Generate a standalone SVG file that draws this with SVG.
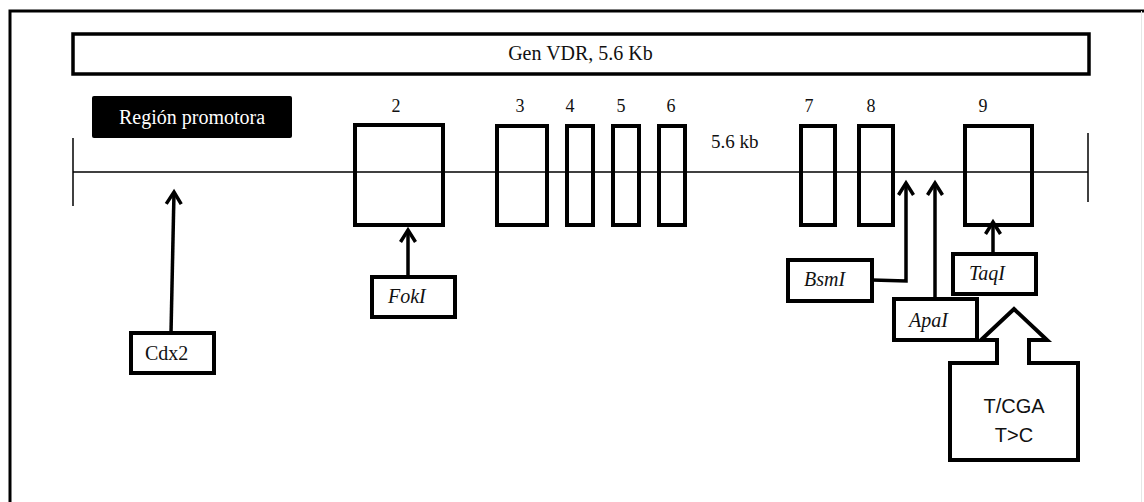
<svg xmlns="http://www.w3.org/2000/svg" width="1144" height="502" viewBox="0 0 1144 502">
<style>
.frame{fill:none;stroke:#000;stroke-width:3}
.box{fill:#fff;stroke:#000;stroke-width:4;stroke-linejoin:miter}
.exon{fill:none;stroke:#000;stroke-width:4}
.thin{fill:none;stroke:#000;stroke-width:1.5}
.arr{fill:none;stroke:#000;stroke-width:3.5;marker-end:url(#chev)}
.t{font-family:"Liberation Serif","Times New Roman",serif;font-size:20px;fill:#111}
.num{font-family:"Liberation Serif","Times New Roman",serif;font-size:18px;fill:#111;text-anchor:middle}
.it{font-style:italic}
.sans{font-family:"Liberation Sans",Arial,sans-serif;font-size:20px;fill:#111;text-anchor:middle}
</style>
<defs>
<marker id="chev" markerUnits="userSpaceOnUse" viewBox="-15 -15 30 30" markerWidth="30" markerHeight="30" refX="0" refY="0" orient="auto" overflow="visible">
<path d="M-12,-7.5 L0,0 L-12,7.5" fill="none" stroke="#000" stroke-width="3.5" stroke-linejoin="miter"/>
</marker>
</defs>
<rect width="1144" height="502" fill="#fff"/>
<path class="frame" d="M10,503 L10,11 L1144,11"/>
<line x1="1141.5" y1="11" x2="1141.5" y2="502" stroke="#e6e6e6" stroke-width="1"/>

<g id="gene-bar">
<rect class="box" x="73" y="34" width="1016" height="40" style="stroke-width:3.5"/>
<text class="t" x="580.5" y="60" text-anchor="middle">Gen VDR, 5.6 Kb</text>
</g>

<g id="promoter">
<rect x="92" y="96" width="200" height="42" rx="2" fill="#000"/>
<text class="t" x="192" y="124" text-anchor="middle" style="fill:#fff">Región promotora</text>
</g>

<g id="backbone">
<line class="thin" x1="73" y1="172" x2="1088" y2="172"/>
<line class="thin" x1="73" y1="138" x2="73" y2="206"/>
<line class="thin" x1="1088" y1="133" x2="1088" y2="202"/>
<text class="t" x="711" y="148" style="font-size:19px">5.6 kb</text>
</g>

<g id="exon2"><rect class="exon" x="355" y="125" width="88" height="100"/><text class="num" x="396" y="112">2</text></g>
<g id="exon3"><rect class="exon" x="497" y="126" width="50" height="99"/><text class="num" x="520" y="112">3</text></g>
<g id="exon4"><rect class="exon" x="567" y="126" width="26" height="99"/><text class="num" x="570" y="112">4</text></g>
<g id="exon5"><rect class="exon" x="613" y="126" width="26" height="99"/><text class="num" x="621" y="112">5</text></g>
<g id="exon6"><rect class="exon" x="659" y="126" width="26" height="99"/><text class="num" x="671" y="112">6</text></g>
<g id="exon7"><rect class="exon" x="801" y="126" width="34" height="99"/><text class="num" x="809" y="112">7</text></g>
<g id="exon8"><rect class="exon" x="859" y="126" width="34" height="99"/><text class="num" x="871" y="112">8</text></g>
<g id="exon9"><rect class="exon" x="965" y="126" width="67" height="99"/><text class="num" x="983" y="112">9</text></g>

<g id="cdx2"><rect class="box" x="131" y="333" width="83" height="40"/><text class="t" x="145" y="360">Cdx2</text></g>
<g id="foki"><rect class="box" x="372" y="277" width="83" height="40"/><text class="t it" x="388" y="303">FokI</text></g>
<g id="bsmi"><rect class="box" x="788" y="260" width="84" height="41"/><text class="t it" x="804" y="286">BsmI</text></g>
<g id="apai"><rect class="box" x="894" y="299" width="83" height="41"/><text class="t it" x="909" y="327">ApaI</text></g>
<g id="taqi"><rect class="box" x="953" y="254" width="83" height="40"/><text class="t it" x="969" y="280">TaqI</text></g>
<g id="tcga">
<path class="box" d="M950,363 L997,363 L997,340 L981,340 L1014,309 L1047,340 L1029,340 L1029,363 L1078,363 L1078,460 L950,460 Z"/>
<text class="sans" x="1014" y="413">T/CGA</text>
<text class="sans" x="1014" y="442">T&gt;C</text>
</g>

<g id="connectors">
<line class="arr" x1="171" y1="333" x2="174" y2="192"/>
<line class="arr" x1="408" y1="277" x2="408" y2="230"/>
<polyline class="arr" points="872,280 906,281 906,183"/>
<line class="arr" x1="935" y1="299" x2="935" y2="183"/>
<line class="arr" x1="993" y1="254" x2="993" y2="222"/>
</g>
</svg>
